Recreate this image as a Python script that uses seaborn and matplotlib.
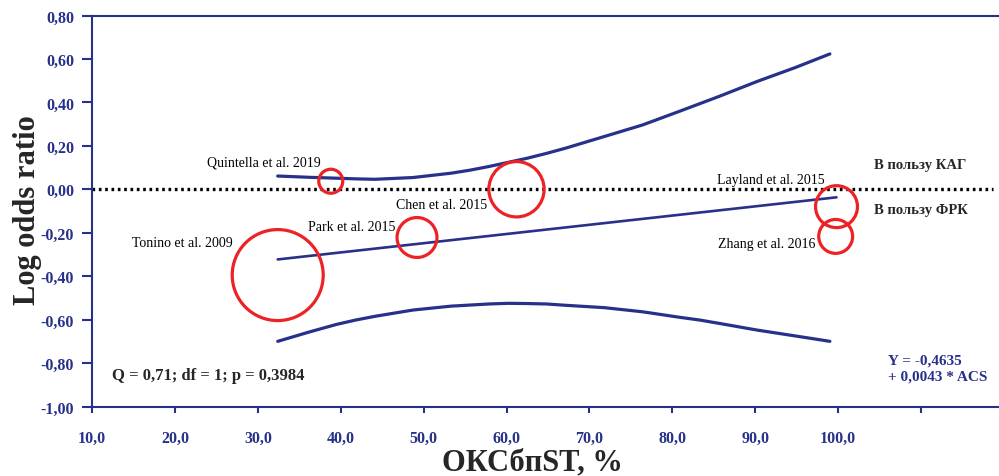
import matplotlib
matplotlib.use("Agg")
import matplotlib.pyplot as plt
import numpy as np
import pandas as pd
import seaborn as sns

# Studies (x = % ОКСбпST, y = log odds ratio, weight = relative study weight, %)
studies = ["Tonino et al. 2009", "Quintella et al. 2019", "Park et al. 2015",
           "Chen et al. 2015", "Layland et al. 2015", "Zhang et al. 2016"]
study_x = [32.4, 38.8, 49.2, 61.2, 99.8, 99.7]
study_y = [-0.395, 0.037, -0.222, 0.0, -0.08, -0.217]
weights = [50.4, 3.5, 9.7, 18.6, 10.7, 7.0]

# Meta-regression line and its confidence band
reg_x = [32.4, 99.8]
reg_y = [-0.323, -0.037]
band_x = [32.4, 36.3, 39.5, 41.8, 44.1, 48.7, 53.3, 55.6, 57.9, 60.2, 62.5, 64.8,
          67.1, 71.8, 76.4, 81.0, 83.3, 85.6, 90.2, 94.8, 99.0]
band_upper = [0.061, 0.055, 0.051, 0.048, 0.046, 0.054, 0.074, 0.088, 0.105, 0.124, 0.143, 0.165,
              0.189, 0.243, 0.296, 0.361, 0.394, 0.427, 0.496, 0.56, 0.623]
band_lower = [-0.70, -0.656, -0.622, -0.602, -0.585, -0.556, -0.538, -0.533, -0.528, -0.525, -0.526, -0.528,
              -0.534, -0.545, -0.564, -0.590, -0.602, -0.617, -0.648, -0.675, -0.70]

y_ticks = [-1.0, -0.8, -0.6, -0.4, -0.2, 0.0, 0.2, 0.4, 0.6, 0.8]
x_ticks = [10, 20, 30, 40, 50, 60, 70, 80, 90, 100, 110]

navy = "#28318A"
red = "#ED2224"

sns.set_style("white")
plt.rcParams["font.family"] = ["Liberation Serif", "DejaVu Serif"]
plt.rcParams["font.weight"] = "bold"

df = pd.DataFrame({"study": studies, "x": study_x, "y": study_y, "w": weights})

fig = plt.figure(figsize=(9.99, 4.77), dpi=100)
ax = fig.add_axes([92 / 999, 69.5 / 477, 907 / 999, 391 / 477])

# zero line
ax.hlines(0, 10, 118.7, colors="black", linestyles=(0, (0.8, 1.1)), linewidth=2.4, zorder=1)

sns.lineplot(x=band_x, y=band_upper, ax=ax, color=navy, linewidth=2.3, sort=False, estimator=None)
sns.lineplot(x=band_x, y=band_lower, ax=ax, color=navy, linewidth=2.3, sort=False, estimator=None)
sns.lineplot(x=reg_x, y=reg_y, ax=ax, color=navy, linewidth=1.9, sort=False, estimator=None)

smax = (2 * 45.5 * 0.72) ** 2
sns.scatterplot(data=df, x="x", y="y", size="w", sizes=(0, smax), size_norm=(0, max(weights)),
                legend=False, ax=ax, edgecolor=red, linewidth=2.3, zorder=3)
ax.collections[-1].set_facecolor("none")

# study labels
label_pos = {
    "Tonino et al. 2009": (20.9, -0.244),
    "Quintella et al. 2019": (30.75, 0.125),
    "Park et al. 2015": (41.3, -0.170),
    "Chen et al. 2015": (52.2, -0.072),
    "Layland et al. 2015": (91.85, 0.044),
    "Zhang et al. 2016": (91.4, -0.248),
}
for name in studies:
    lx, ly = label_pos[name]
    ax.text(lx, ly, name, ha="center", va="center", fontsize=10, fontweight="normal", color="black")

ax.text(104.33, 0.112, "В пользу КАГ", ha="left", va="center", fontsize=10.5, fontweight="bold")
ax.text(104.33, -0.095, "В пользу ФРК", ha="left", va="center", fontsize=10.5, fontweight="bold")
ax.text(12.38, -0.853, "Q = 0,71; df = 1; p = 0,3984", ha="left", va="center", fontsize=12, fontweight="bold")
ax.text(106.0, -0.823, "Y = -0,4635\n+ 0,0043 * ACS", ha="left", va="center", fontsize=11,
        fontweight="bold", color=navy, linespacing=1.3)

ax.set_xlim(10, 119.4)
ax.set_ylim(-1.0, 0.8)
ax.set_yticks(y_ticks)
ax.set_yticklabels([f"{v:.2f}".replace(".", ",") for v in y_ticks])
ax.set_xticks(x_ticks)
ax.set_xticklabels([f"{v:.1f}".replace(".", ",") if v <= 100 else "" for v in x_ticks])

for side in ["left", "bottom", "top"]:
    ax.spines[side].set_color(navy)
    ax.spines[side].set_linewidth(1.5)
ax.spines["right"].set_visible(False)

ax.tick_params(axis="y", direction="out", length=7, width=1.5, color=navy, labelcolor=navy,
               labelsize=11.5, pad=6, left=True)
ax.tick_params(axis="x", direction="out", length=4.5, width=1.5, color=navy, labelcolor=navy,
               labelsize=11.5, pad=12, bottom=True)
for lab in ax.get_xticklabels() + ax.get_yticklabels():
    lab.set_fontweight("bold")

ax.set_ylabel("Log odds ratio", fontsize=22, fontweight="bold", va="center")
ax.yaxis.set_label_coords(-0.0706, 0.505)
ax.set_xlabel("ОКСбпST, %", fontsize=22, fontweight="bold", va="center")
ax.xaxis.set_label_coords(0.486, -0.141)

fig.savefig("out.png", dpi=100)
